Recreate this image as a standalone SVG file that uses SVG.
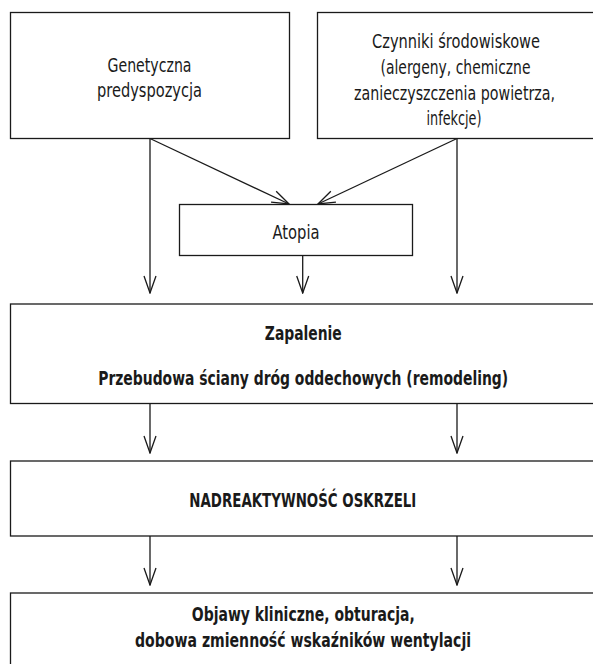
<svg xmlns="http://www.w3.org/2000/svg" width="593" height="664" viewBox="0 0 593 664">
<defs>
<style>
.box{fill:#fff;stroke:#1a1a1a;stroke-width:1.3}
.t{font-family:"Liberation Sans Narrow","DejaVu Sans Condensed","Liberation Sans",sans-serif;font-size:19px;fill:#1a1a1a;text-anchor:middle}
.b{font-weight:bold;font-size:20px}
.c{fill:none;stroke:#1a1a1a;stroke-width:1.3}
</style>
<marker id="ah" markerUnits="userSpaceOnUse" viewBox="-18 -7 19 14" refX="0" refY="0" markerWidth="19" markerHeight="14" orient="auto">
<path d="M-17,-6 L0,0 L-17,6" fill="none" stroke="#1a1a1a" stroke-width="1.3"/>
</marker>
</defs>
<rect width="593" height="664" fill="#fff"/>
<g id="connectors">
<line class="c" x1="150" y1="138.5" x2="150" y2="293" marker-end="url(#ah)"/>
<line class="c" x1="457" y1="138.5" x2="457" y2="293" marker-end="url(#ah)"/>
<line class="c" x1="150" y1="138.5" x2="289" y2="204" marker-end="url(#ah)"/>
<line class="c" x1="457" y1="138.5" x2="318" y2="204" marker-end="url(#ah)"/>
<line class="c" x1="302.7" y1="255.5" x2="302.7" y2="293" marker-end="url(#ah)"/>
<line class="c" x1="150" y1="403.5" x2="150" y2="453" marker-end="url(#ah)"/>
<line class="c" x1="457" y1="403.5" x2="457" y2="453" marker-end="url(#ah)"/>
<line class="c" x1="150" y1="536" x2="150" y2="585" marker-end="url(#ah)"/>
<line class="c" x1="457" y1="536" x2="457" y2="585" marker-end="url(#ah)"/>
</g>
<g id="genetyczna">
<rect class="box" x="10.5" y="12.5" width="279" height="126"/>
<text class="t" transform="translate(149.5,72) scale(0.72,1)" textLength="116.7" lengthAdjust="spacingAndGlyphs">Genetyczna</text>
<text class="t" transform="translate(149.5,97) scale(0.72,1)" textLength="145.8" lengthAdjust="spacingAndGlyphs">predyspozycja</text>
</g>
<g id="czynniki">
<rect class="box" x="317.5" y="12.5" width="276.5" height="126"/>
<text class="t" transform="translate(456,48) scale(0.72,1)" textLength="233.3" lengthAdjust="spacingAndGlyphs">Czynniki środowiskowe</text>
<text class="t" transform="translate(455.5,74) scale(0.72,1)" textLength="208.3" lengthAdjust="spacingAndGlyphs">(alergeny, chemiczne</text>
<text class="t" transform="translate(454.5,100) scale(0.72,1)" textLength="279.2" lengthAdjust="spacingAndGlyphs">zanieczyszczenia powietrza,</text>
<text class="t" transform="translate(454,125) scale(0.72,1)" textLength="76.4" lengthAdjust="spacingAndGlyphs">infekcje)</text>
</g>
<g id="atopia">
<rect class="box" x="179.5" y="204.5" width="233" height="51"/>
<text class="t" transform="translate(296,239) scale(0.72,1)" textLength="65.3" lengthAdjust="spacingAndGlyphs">Atopia</text>
</g>
<g id="zapalenie">
<rect class="box" x="10.5" y="304" width="583.5" height="99.5"/>
<text class="t b" transform="translate(303.3,340) scale(0.72,1)" textLength="106.9" lengthAdjust="spacingAndGlyphs">Zapalenie</text>
<text class="t b" transform="translate(303.2,385) scale(0.72,1)" textLength="569.4" lengthAdjust="spacingAndGlyphs">Przebudowa ściany dróg oddechowych (remodeling)</text>
</g>
<g id="nadreaktywnosc">
<rect class="box" x="10.5" y="461" width="583.5" height="75"/>
<text class="t b" transform="translate(302.8,506.5) scale(0.72,1)" textLength="315.3" lengthAdjust="spacingAndGlyphs">NADREAKTYWNOŚĆ OSKRZELI</text>
</g>
<g id="objawy">
<rect class="box" x="10.5" y="593" width="583.5" height="80"/>
<text class="t b" transform="translate(303.3,621) scale(0.72,1)" textLength="309.7" lengthAdjust="spacingAndGlyphs">Objawy kliniczne, obturacja,</text>
<text class="t b" transform="translate(303,647) scale(0.72,1)" textLength="466.7" lengthAdjust="spacingAndGlyphs">dobowa zmienność wskaźników wentylacji</text>
</g>
</svg>
